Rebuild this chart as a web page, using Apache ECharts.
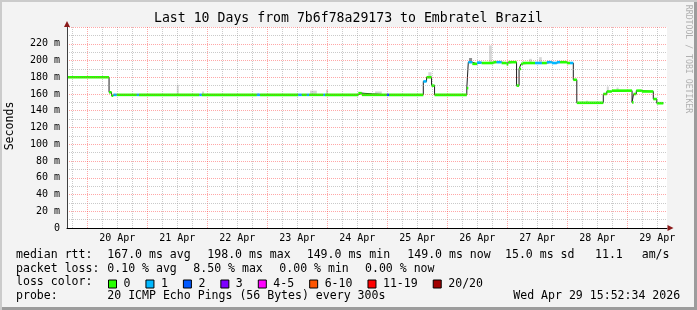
<!DOCTYPE html>
<html><head><meta charset="utf-8">
<script src="https://cdn.jsdelivr.net/npm/echarts@6/dist/echarts.min.js"></script>
<style>
html,body{margin:0;padding:0;background:#f3f3f3;}
#frame{position:relative;width:697px;height:310px;background:#f3f3f3;box-shadow:inset 2px 2px 0 #cbcbcb, inset -3px -3px 0 #9c9c9c;}
#chart{position:absolute;left:0;top:0;width:697px;height:310px;}
</style></head><body><div id="frame"><div id="chart"></div></div>
<script>
// ---- time range (hours since 19 Apr 00:00) ----
const startHour = 15.876;   // 19 Apr 15:52:34
const endHour = 255.876;    // 29 Apr 15:52:34
const dataEnd = 254.4;

// ---- median rtt steps (ms): start hour, value, loss level index ----
const stepStart = [15.9, 32.7, 33.7, 34.4, 35.7, 43.8, 44.6, 68.8, 69.8, 91.8, 93.1, 108.4, 109.8, 111.8, 112.7, 118.4, 119.1, 132.4, 133.8, 143.8, 144.7, 158.4, 159.7, 161.7, 162.9, 175.8, 176.4, 178.0, 179.9, 181.7, 186.4, 187.7, 189.7, 191.7, 192.4, 195.7, 196.7, 197.5, 198.2, 203.1, 205.8, 207.8, 209.8, 211.8, 213.1, 215.8, 217.1, 218.4, 219.8, 230.4, 231.8, 233.8, 241.9, 242.5, 243.6, 245.8, 250.4, 251.8];
const stepValue = [180, 162, 158, 159, 159, 159, 159, 159, 159, 159, 159, 159, 159, 159, 159, 159, 159, 161, 159, 159, 159, 175, 180, 170, 159, 167, 198, 196, 197.5, 197, 198, 198, 197, 195.5, 198, 170, 190, 196, 197, 197, 197, 198, 197, 198, 198, 197, 197, 177, 149.5, 160, 163, 164, 150, 160, 164, 163, 154, 149];
const stepLoss = [0, 0, 0, 1, 0, 1, 0, 1, 0, 1, 0, 1, 0, 1, 0, 1, 0, 0, 0, 2, 0, 1, 0, 0, 0, 0, 1, 0, 1, 0, 0, 1, 0, 0, 0, 0, 0, 0, 0, 1, 0, 1, 1, 1, 0, 0, 1, 0, 0, 0, 0, 0, 0, 0, 0, 0, 0, 0];

// ---- smoke (ping spread) ----
const smokeStart = [59.8, 69.9, 91.9, 113.1, 119.5, 133.2, 139.1, 160.4, 176.7, 184.7, 200.7, 204.7, 223.5, 231.8, 235.7];
const smokeEnd   = [60.6, 70.7, 92.7, 115.8, 120.3, 134.4, 141.8, 161.7, 177.9, 185.8, 201.8, 205.8, 224.3, 232.6, 236.5];
const smokeLow   = [159, 159, 159, 159, 159, 159, 159, 180, 198, 197, 197, 197, 149.5, 163, 164];
const smokeHigh  = [171, 163, 161, 164, 165, 162, 163, 186, 203, 218, 202, 204, 152, 169, 167.7];
const smokeDark  = [0, 0, 0, 0, 0, 0, 0, 0, 1, 0, 0, 0, 0, 0, 0];

// ---- loss legend ----
const lossNames = ['0', '1', '2', '3', '4-5', '6-10', '11-19', '20/20'];
const lossColors = ['#26ff00', '#00b8ff', '#0059ff', '#7e00ff', '#ff00ff', '#ff5500', '#ff0000', '#a10000'];

// ---- axis labels ----
const dayLabels = ['20 Apr', '21 Apr', '22 Apr', '23 Apr', '24 Apr', '25 Apr', '26 Apr', '27 Apr', '28 Apr', '29 Apr'];
const dayLabelHours = [36, 60, 84, 108, 132, 156, 180, 204, 228, 252];

// ---- text lines ----
const statRows = [
  [['median rtt:', 16], ['167.0 ms avg', 107.3], ['198.0 ms max', 207.3], ['149.0 ms min', 306.7], ['149.0 ms now', 407.3], ['15.0 ms sd', 505], ['11.1', 595], ['am/s', 641.7]],
  [['packet loss:', 16], ['0.10 % avg', 107.3], ['8.50 % max', 193.3], ['0.00 % min', 279.3], ['0.00 % now', 365]],
  [['loss color:', 16]],
  [['probe:', 16], ['20 ICMP Echo Pings (56 Bytes) every 300s', 107.3], ['Wed Apr 29 15:52:34 2026', 513.3]]
];
const rowY = [255, 268.5, 282.3, 296];

const MONO = '"DejaVu Sans Mono", monospace';
const RED = 'rgba(255,60,60,0.45)';
const GREY = 'rgba(150,150,150,0.5)';

const gridHours = [];
for (let h = Math.ceil(startHour / 6) * 6; h < endHour; h += 6) gridHours.push(h);

const medianLine = stepStart.map((t, i) => [t, stepValue[i]]);
medianLine.push([dataEnd, stepValue[stepValue.length - 1]]);

function stepEnd(i) { return i + 1 < stepStart.length ? stepStart[i + 1] : dataEnd; }

const lossSeries = lossNames.map((name, k) => {
  const data = [];
  stepStart.forEach((t, i) => { if (stepLoss[i] === k) data.push([t, stepEnd(i), stepValue[i]]); });
  return {
    name: name, type: 'custom', z: 5, clip: true,
    itemStyle: { color: lossColors[k], borderColor: '#000', borderWidth: 1 },
    encode: { x: [0, 1], y: 2 },
    data: data,
    renderItem: function (params, api) {
      const p0 = api.coord([api.value(0), api.value(2)]);
      const p1 = api.coord([api.value(1), api.value(2)]);
      return { type: 'rect', shape: { x: p0[0], y: p0[1] - 1.3, width: p1[0] - p0[0], height: 2.6 }, style: { fill: lossColors[k] } };
    }
  };
});

const smokeData = smokeStart.map((t, i) => [t, smokeEnd[i], smokeLow[i], smokeHigh[i], smokeDark[i]]);

const graphics = [];
statRows.forEach((row, r) => row.forEach(([txt, x]) => graphics.push({
  type: 'text', x: x, y: rowY[r], silent: true,
  style: { text: txt, font: '11.55px ' + MONO, fill: '#000', verticalAlign: 'middle', align: 'left' }
})));
graphics.push({ type: 'text', x: 10, y: 126, rotation: Math.PI / 2, silent: true,
  style: { text: 'Seconds', font: '11.55px ' + MONO, fill: '#000', align: 'center', verticalAlign: 'middle' } });
graphics.push({ type: 'text', x: 688, y: 59, rotation: -Math.PI / 2, silent: true,
  style: { text: 'RRDTOOL / TOBI OETIKER', font: '8.2px ' + MONO, fill: '#b0b0b0', align: 'center', verticalAlign: 'middle' } });

const chart = echarts.init(document.getElementById('chart'), null, { renderer: 'canvas' });
chart.setOption({
  animation: false,
  backgroundColor: 'transparent',
  title: { text: 'Last 10 Days from 7b6f78a29173 to Embratel Brazil', left: 'center', top: 12, padding: 0,
    textStyle: { fontFamily: MONO, fontSize: 13.2, fontWeight: 'normal', color: '#000' } },
  grid: { left: 67, top: 27, width: 600, height: 201, show: true, backgroundColor: '#fff', borderWidth: 0 },
  legend: {
    left: 108, top: 278, padding: 0, itemWidth: 8, itemHeight: 8, itemGap: 15, icon: 'rect',
    selectedMode: false, data: lossNames,
    itemStyle: { borderColor: '#000', borderWidth: 1 },
    textStyle: { fontFamily: MONO, fontSize: 11.55, color: '#000', padding: [0, 0, 0, 2] }
  },
  xAxis: [
    { type: 'value', min: startHour, max: endHour, position: 'bottom', z: 6,
      axisLine: { show: true, lineStyle: { color: '#000', width: 1 } },
      axisTick: { show: false }, splitLine: { show: false },
      axisLabel: { show: true, customValues: dayLabelHours, hideOverlap: false, margin: 5,
        fontFamily: MONO, fontSize: 10, color: '#000',
        formatter: function (v) { const i = dayLabelHours.indexOf(Math.round(v)); return i >= 0 ? dayLabels[i] : ''; } } },
    { type: 'value', min: startHour, max: endHour, position: 'bottom', z: 6,
      axisLine: { show: true, symbol: ['none', 'triangle'], symbolSize: [6, 6], symbolOffset: [0, 3.5],
        lineStyle: { color: '#8b1a1a', width: 0 } },
      axisTick: { show: false }, axisLabel: { show: false }, splitLine: { show: false } }
  ],
  yAxis: [
    { type: 'value', min: 0, max: 240, interval: 10, position: 'left', z: 6,
      axisLine: { show: true, lineStyle: { color: '#404040', width: 1 } },
      axisTick: { show: false },
      splitLine: { show: true, lineStyle: { color: [RED, GREY], type: [1, 1], width: 1 } },
      axisLabel: { margin: 7, fontFamily: MONO, fontSize: 10, color: '#000',
        formatter: function (v) { if (v % 20 !== 0 || v >= 240) return ''; return v === 0 ? '0' : v + ' m'; } } },
    { type: 'value', min: 0, max: 240, position: 'left', offset: 0, z: 6,
      axisLine: { show: true, onZero: false, symbol: ['none', 'triangle'], symbolSize: [6, 6], symbolOffset: [0, 3],
        lineStyle: { color: '#8b1a1a', width: 0 } },
      axisTick: { show: false }, axisLabel: { show: false }, splitLine: { show: false } }
  ],
  graphic: graphics,
  series: [
    { name: 'grid', type: 'line', data: [], z: 1, silent: true,
      markLine: { silent: true, symbol: ['none', 'none'], label: { show: false }, animation: false,
        data: gridHours.map(h => ({ xAxis: h, lineStyle: { color: h % 24 === 0 ? RED : GREY, type: [1, 1], width: 1 } })) } },
    { name: 'smoke', type: 'custom', z: 2, clip: true, encode: { x: [0, 1], y: [2, 3] }, data: smokeData,
      renderItem: function (params, api) {
        const a = api.coord([api.value(0), api.value(3)]);
        const b = api.coord([api.value(1), api.value(2)]);
        return { type: 'rect', shape: { x: a[0], y: a[1], width: b[0] - a[0], height: b[1] - a[1] },
          style: { fill: api.value(4) ? '#8e8e8e' : '#d6d6d6' } };
      } },
    { name: 'median', type: 'line', step: 'end', z: 3, symbol: 'none', data: medianLine,
      lineStyle: { color: '#202020', width: 1 } }
  ].concat(lossSeries)
});
</script></body></html>
